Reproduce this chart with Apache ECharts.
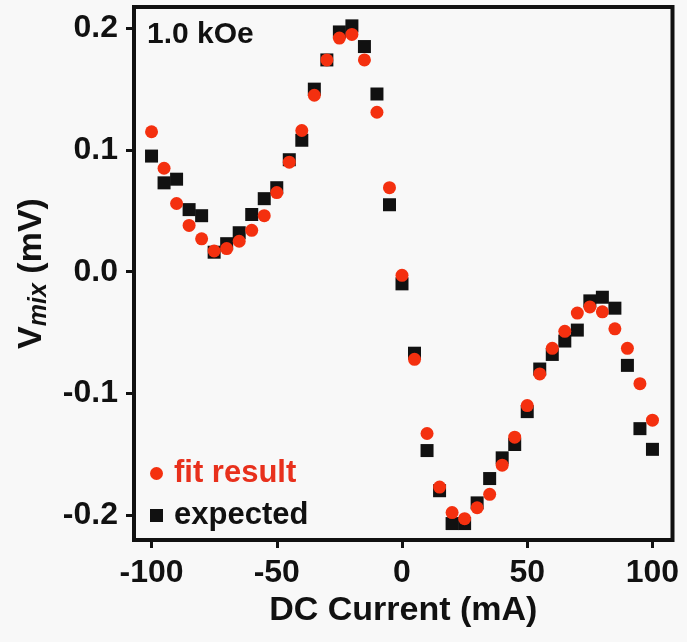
<!DOCTYPE html>
<html>
<head>
<meta charset="utf-8">
<script src="https://cdn.jsdelivr.net/npm/echarts@6/dist/echarts.min.js"></script>
<style>
  html, body { margin: 0; padding: 0; background: #f8f8f8; }
  #chart { width: 687px; height: 642px; }
</style>
</head>
<body>
<div id="chart"></div>
<script>
// DC current (mA), one point every 5 mA
const current = [-100, -95, -90, -85, -80, -75, -70, -65, -60, -55, -50, -45, -40, -35, -30, -25, -20, -15, -10, -5,
  0, 5, 10, 15, 20, 25, 30, 35, 40, 45, 50, 55, 60, 65, 70, 75, 80, 85, 90, 95, 100]

// V_mix (mV)
const fitResult = [0.115, 0.085, 0.056, 0.038, 0.027, 0.017, 0.019, 0.025, 0.034, 0.046, 0.065, 0.090, 0.116, 0.145, 0.174, 0.192, 0.195, 0.174, 0.131, 0.069,
  -0.003, -0.072, -0.133, -0.177, -0.198, -0.203, -0.194, -0.183, -0.159, -0.136, -0.110, -0.084, -0.063, -0.049, -0.034, -0.029, -0.033, -0.047, -0.063, -0.092, -0.122]
const expected = [0.095, 0.073, 0.076, 0.051, 0.046, 0.016, 0.023, 0.032, 0.047, 0.060, 0.069, 0.092, 0.108, 0.150, 0.174, 0.197, 0.202, 0.185, 0.146, 0.055,
  -0.010, -0.067, -0.147, -0.180, -0.207, -0.207, -0.190, -0.170, -0.153, -0.142, -0.115, -0.080, -0.068, -0.057, -0.048, -0.024, -0.021, -0.030, -0.077, -0.129, -0.146]

const xTicks = [-100, -50, 0, 50, 100]
const yTicks = [-0.2, -0.1, 0.0, 0.1, 0.2]

const RED = '#f4300f'
const INK = '#111111'
const FONT = "'Liberation Sans', Arial, sans-serif"

const pairs = (ys) => current.map((x, i) => [x, ys[i]])

const chart = echarts.init(document.getElementById('chart'))
chart.setOption({
  animation: false,
  backgroundColor: '#f8f8f8',
  title: {
    text: '1.0 kOe',
    left: 147,
    top: 20,
    padding: 0,
    textStyle: { fontFamily: FONT, fontSize: 30, fontWeight: 'bold', color: INK }
  },
  legend: {
    orient: 'vertical',
    left: 150,
    top: 458,
    padding: 0,
    itemWidth: 13,
    itemHeight: 13,
    itemGap: 11,
    textStyle: { fontFamily: FONT, fontSize: 31, fontWeight: 'bold', padding: [0, 0, 0, 6] },
    data: [
      { name: 'fit result', icon: 'circle', textStyle: { color: '#e8301c' } },
      { name: 'expected', icon: 'rect', textStyle: { color: INK } }
    ]
  },
  grid: {
    left: 134,
    right: 14.5,
    top: 7,
    bottom: 102,
    show: true,
    borderColor: INK,
    borderWidth: 4,
    backgroundColor: 'transparent'
  },
  xAxis: {
    type: 'value',
    min: -107,
    max: 108,
    name: 'DC Current (mA)',
    nameLocation: 'middle',
    nameGap: 49,
    nameTextStyle: { fontFamily: FONT, fontSize: 34, fontWeight: 'bold', color: INK },
    axisLine: { show: false, onZero: false },
    splitLine: { show: false },
    axisTick: {
      show: true,
      customValues: xTicks,
      length: 8,
      lineStyle: { color: INK, width: 3 }
    },
    axisLabel: {
      customValues: xTicks,
      margin: 17,
      fontFamily: FONT,
      fontSize: 32,
      fontWeight: 'bold',
      color: INK
    }
  },
  yAxis: {
    type: 'value',
    min: -0.2205,
    max: 0.2175,
    name: '{v|V}{s|mix}{v| (mV)}',
    nameLocation: 'middle',
    nameRotate: 90,
    nameGap: 80,
    nameTextStyle: {
      rich: {
        v: { fontFamily: FONT, fontSize: 34, fontWeight: 'bold', color: INK, lineHeight: 41 },
        s: { fontFamily: FONT, fontSize: 25, fontWeight: 'bold', fontStyle: 'italic', color: INK, verticalAlign: 'bottom' }
      }
    },
    axisLine: { show: false, onZero: false },
    splitLine: { show: false },
    axisTick: {
      show: true,
      customValues: yTicks,
      length: 8,
      lineStyle: { color: INK, width: 3 }
    },
    axisLabel: {
      customValues: yTicks,
      margin: 16,
      fontFamily: FONT,
      fontSize: 32,
      fontWeight: 'bold',
      color: INK,
      formatter: (v) => v.toFixed(1)
    }
  },
  series: [
    {
      name: 'expected',
      type: 'scatter',
      symbol: 'rect',
      symbolSize: 13,
      itemStyle: { color: INK, opacity: 1 },
      data: pairs(expected)
    },
    {
      name: 'fit result',
      type: 'scatter',
      symbol: 'circle',
      symbolSize: 13,
      itemStyle: { color: RED, opacity: 1 },
      data: pairs(fitResult)
    }
  ]
})
</script>
</body>
</html>
